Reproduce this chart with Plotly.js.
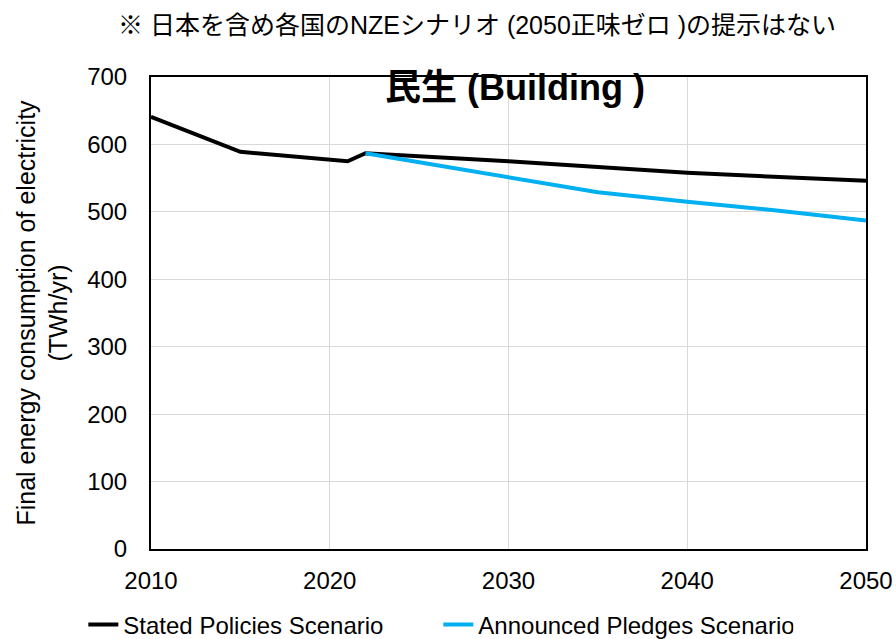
<!DOCTYPE html>
<html><head><meta charset="utf-8">
<script src="https://cdn.plot.ly/plotly-3.0.1.min.js"></script>
<style>html,body{margin:0;padding:0;background:#fff}</style>
</head><body><div id="chart" style="width:896px;height:639px"></div>
<script>
const yearsSTEPS = [2010, 2015, 2021, 2022, 2030, 2035, 2040, 2050];
const valuesSTEPS = [641, 589, 575, 587, 575, 566, 558, 546];
const yearsAPS = [2022, 2030, 2035, 2040, 2045, 2050];
const valuesAPS = [587, 551, 529, 515, 502, 487];
const seriesNames = ["Stated Policies Scenario", "Announced Pledges Scenario"];
const xTicks = [2010, 2020, 2030, 2040, 2050];
const yTicks = [0, 100, 200, 300, 400, 500, 600, 700];

const font = "Liberation Sans, Arial, Noto Sans CJK JP, sans-serif";
const traces = [
  {x: yearsSTEPS, y: valuesSTEPS, name: seriesNames[0], mode: "lines", line: {color: "#000000", width: 4}},
  {x: yearsAPS, y: valuesAPS, name: seriesNames[1], mode: "lines", line: {color: "#00B0F0", width: 4}}
];
const layout = {
  width: 896, height: 639,
  margin: {l: 151, r: 30, t: 77, b: 90},
  paper_bgcolor: "#fff", plot_bgcolor: "#fff",
  font: {family: font, color: "#000", size: 24},
  showlegend: true,
  legend: {orientation: "h", x: 0.093, xanchor: "left", xref: "container", y: 0.022, yanchor: "middle", yref: "container", font: {size: 24}, tracegroupgap: 0, entrywidth: 310, entrywidthmode: "pixels"},
  xaxis: {range: [2010, 2050], tickvals: xTicks, ticktext: xTicks.map(String), showgrid: true, gridcolor: "#d9d9d9", gridwidth: 1,
          showline: true, linecolor: "#000", linewidth: 2, mirror: true, zeroline: false, ticks: "", tickfont: {size: 24}, ticklabelstandoff: 9, automargin: false},
  yaxis: {range: [0, 700], tickvals: yTicks, showgrid: true, gridcolor: "#d9d9d9", gridwidth: 1,
          showline: true, linecolor: "#000", linewidth: 2, mirror: true, zeroline: false, ticks: "", tickfont: {size: 24}, ticklabelstandoff: 17, automargin: false,
          title: {text: "Final energy consumption of electricity<br>(TWh/yr)", font: {size: 25}, standoff: 12}},
  annotations: [
    {text: "※ 日本を含め各国のNZEシナリオ (2050正味ゼロ )の提示はない", xref: "paper", yref: "paper", x: 0.456, y: 1.0, yshift: 52, xanchor: "center", yanchor: "middle", showarrow: false, font: {size: 25, family: font}},
    {text: "<b>民生 (Building )</b>", xref: "paper", yref: "paper", x: 0.509, y: 1.0, yshift: -10, xanchor: "center", yanchor: "middle", showarrow: false, font: {size: 36, family: font}}
  ]
};
Plotly.newPlot("chart", traces, layout, {displayModeBar: false});
</script></body></html>
